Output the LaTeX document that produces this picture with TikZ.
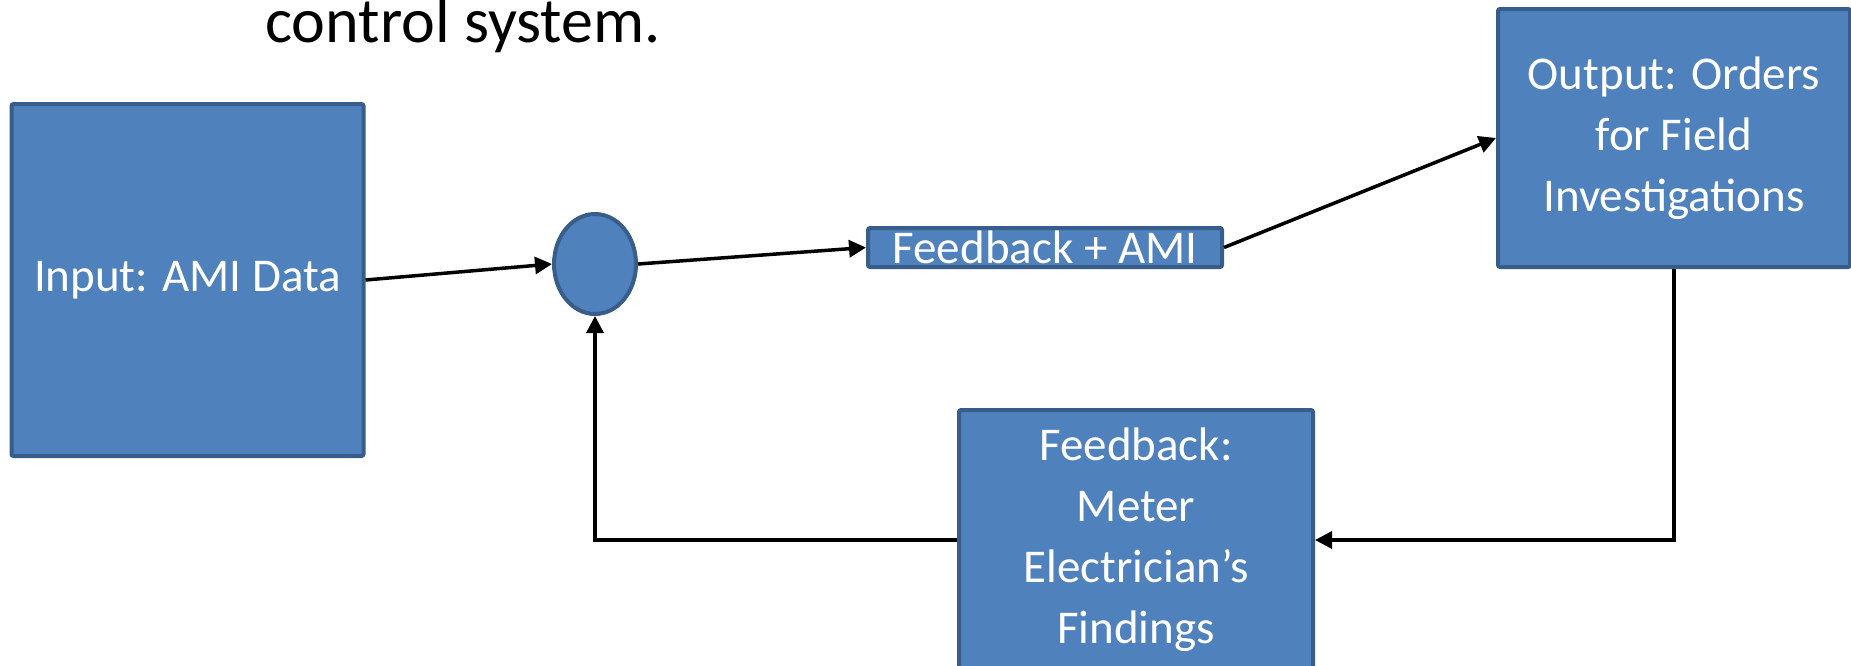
\documentclass[tikz,border=0pt]{standalone}
\usepackage{fontspec}
\setmainfont{Carlito}
\usetikzlibrary{arrows.meta, shapes.geometric}

\definecolor{boxfill}{HTML}{4F81BD}
\definecolor{boxline}{HTML}{385D8A}

\tikzset{
    block/.style={rectangle, draw=boxline, fill=boxfill, line width=2pt,
        rounded corners=1pt, text=white, align=center, inner sep=0pt,
        font=\fontsize{23.5}{30.5}\selectfont},
    sumpoint/.style={ellipse, draw=boxline, fill=boxfill, line width=2pt,
        minimum width=41pt, minimum height=50pt, inner sep=0pt},
    flow/.style={->, line width=1.75pt}
}

\begin{document}
\begin{tikzpicture}[x=0.5pt, y=-0.5pt, >={Triangle[length=8.5pt, width=8.5pt]}]
    \useasboundingbox (0,0) rectangle (1851,665);

    % heading line
    \node[font=\fontsize{32}{38}\selectfont, anchor=base] (title) at (463,42) {control system.};

    % forward path
    \node[block, minimum width=176pt, minimum height=176pt] (in) at (187.5,280) {Input: AMI Data};
    \node[sumpoint] (sum) at (595,264) {};
    \node[block, minimum width=177pt, minimum height=19.5pt] (mix) at (1045,247.5) {Feedback + AMI};
    \node[block, minimum width=176pt, minimum height=129pt] (out) at (1674,138) {Output: Orders\\for Field\\Investigations};

    % return path
    \node[block, minimum width=177pt, minimum height=130pt] (fb) at (1136,540) {Feedback:\\Meter\\Electrician’s\\Findings};

    \draw[flow] (in.east) -- (sum.west);
    \draw[flow] (sum.east) -- (mix.west);
    \draw[flow] (mix.east) -- (out.west);
    \draw[flow] (out.south) |- (fb.east);
    \draw[flow] (fb.west) -| (sum.south);
\end{tikzpicture}
\end{document}
